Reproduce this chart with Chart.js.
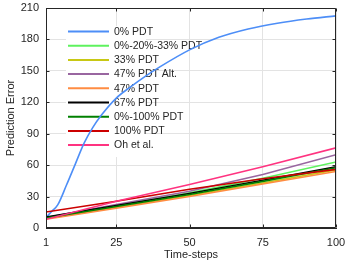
<!DOCTYPE html>
<html>
<head>
<meta charset="utf-8">
<script src="https://cdn.jsdelivr.net/npm/chart.js@4/dist/chart.umd.min.js"></script>
<style>
  html, body { margin: 0; padding: 0; background: #fff; }
</style>
</head>
<body>
<canvas id="error-chart" width="347" height="263"></canvas>
<script>
const xTicks = [1, 25, 50, 75, 100];
const yTicks = [0, 30, 60, 90, 120, 150, 180, 210];

// 0% PDT has its own denser steps (it bends a lot early on)
const blueSteps = [1, 3, 5, 8, 11, 14, 17, 20, 25, 30, 35, 40, 50, 60, 70, 80, 90, 100];
const pdt0 = [10, 16, 22, 41, 61, 81, 96, 108, 124, 135, 145, 154, 170, 182, 190, 195.5, 199.5, 202.5];

// the rest are close to straight
const steps = [1, 25, 50, 75, 100];
const pdt0_20_33 = [9.5, 21, 33.5, 47.5, 63];
const pdt33 = [9, 19.5, 31, 43, 55.5];
const pdt47Alt = [10, 22.5, 35, 51, 70];
const pdt47 = [8.5, 19, 30, 42, 54];
const pdt67 = [10.5, 21.5, 33, 45.5, 58.5];
const pdt0_100 = [9.5, 20.5, 32, 44.5, 57.5];
const pdt100 = [15.3, 25.5, 37, 47, 56];
const ohEtAl = [8.3, 25.5, 41.5, 58.5, 76.5];

const seriesNames = ['0% PDT', '0%-20%-33% PDT', '33% PDT', '47% PDT Alt.', '47% PDT',
    '67% PDT', '0%-100% PDT', '100% PDT', 'Oh et al.'];
const seriesColors = ['#4d8ef7', '#5ef25e', '#c8c814', '#9966a0', '#ff8c42',
    '#000000', '#008000', '#cc0000', '#ff3380'];

const seriesData = [
    blueSteps.map((s, i) => ({ x: s, y: pdt0[i] })),
    ...[pdt0_20_33, pdt33, pdt47Alt, pdt47, pdt67, pdt0_100, pdt100, ohEtAl]
        .map(vals => steps.map((s, i) => ({ x: s, y: vals[i] }))),
];

const axisColor = '#262626';
const fontFamily = '"Liberation Sans", Arial, Helvetica, sans-serif';

// white legend box sits over the grid but under the lines
const legendBox = {
    id: 'legendBox',
    beforeDatasetsDraw(chart) {
        const ctx = chart.ctx;
        ctx.save();
        ctx.fillStyle = '#fff';
        ctx.fillRect(66, 26, 80, 131);
        ctx.font = '10.5px ' + fontFamily;
        ctx.textBaseline = 'middle';
        seriesNames.forEach((name, i) => {
            const y = 31.5 + i * 14.2;
            ctx.strokeStyle = seriesColors[i];
            ctx.lineWidth = 2;
            ctx.beginPath();
            ctx.moveTo(68, y);
            ctx.lineTo(109, y);
            ctx.stroke();
            ctx.fillStyle = '#262626';
            ctx.fillText(name, 114, y + 0.5);
        });
        ctx.restore();
    },
};

// matlab style box with ticks pointing inward
const axesBox = {
    id: 'axesBox',
    afterDatasetsDraw(chart) {
        const { ctx, chartArea: a, scales } = chart;
        ctx.save();
        ctx.strokeStyle = axisColor;
        ctx.lineWidth = 1;
        const l = Math.round(a.left) + 0.5, r = Math.round(a.right) - 0.5;
        const t = Math.round(a.top) + 0.5, b = Math.round(a.bottom) - 0.5;
        ctx.beginPath();
        ctx.rect(l, t, r - l, b - t);
        yTicks.forEach(v => {
            const y = Math.round(scales.y.getPixelForValue(v)) + 0.5;
            ctx.moveTo(l, y); ctx.lineTo(l + 3, y);
            ctx.moveTo(r, y); ctx.lineTo(r - 3, y);
        });
        xTicks.forEach(v => {
            const x = Math.round(scales.x.getPixelForValue(v)) + 0.5;
            ctx.moveTo(x, b); ctx.lineTo(x, b - 3);
            ctx.moveTo(x, t); ctx.lineTo(x, t + 3);
        });
        ctx.stroke();
        ctx.restore();
    },
};

new Chart(document.getElementById('error-chart'), {
    type: 'line',
    data: {
        datasets: seriesData.map((pts, i) => ({
            label: seriesNames[i],
            data: pts,
            borderColor: seriesColors[i],
            backgroundColor: seriesColors[i],
            borderWidth: 1.6,
            pointRadius: 0,
            fill: false,
            cubicInterpolationMode: i === 0 ? 'monotone' : 'default',
            tension: 0,
            order: seriesNames.length - i,
        })),
    },
    options: {
        responsive: false,
        animation: false,
        layout: { padding: { left: 0, top: 8, right: 11, bottom: 0 } },
        plugins: { legend: { display: false }, tooltip: { enabled: false } },
        scales: {
            x: {
                type: 'linear',
                min: 1,
                max: 100,
                afterBuildTicks: s => { s.ticks = xTicks.map(v => ({ value: v })); },
                afterFit: s => { s.height = 35; s.paddingLeft = 0; s.paddingRight = 0; },
                grid: { color: '#e3e3e3', drawTicks: false },
                border: { color: axisColor },
                ticks: { color: '#262626', font: { family: fontFamily, size: 11 }, padding: 8, maxRotation: 0 },
                title: {
                    display: true,
                    text: 'Time-steps',
                    color: '#262626',
                    font: { family: fontFamily, size: 11 },
                    padding: { top: 0, bottom: 1 },
                },
            },
            y: {
                min: 0,
                max: 210,
                afterBuildTicks: s => { s.ticks = yTicks.map(v => ({ value: v })); },
                afterFit: s => { s.width = 46; s.paddingTop = 0; s.paddingBottom = 0; },
                grid: { color: '#e3e3e3', drawTicks: false },
                border: { color: axisColor },
                ticks: { color: '#262626', font: { family: fontFamily, size: 11 }, padding: 7 },
                title: {
                    display: true,
                    text: 'Prediction Error',
                    color: '#262626',
                    font: { family: fontFamily, size: 11 },
                    padding: { top: 4, bottom: 4 },
                },
            },
        },
    },
    plugins: [legendBox, axesBox],
});
</script>
</body>
</html>
